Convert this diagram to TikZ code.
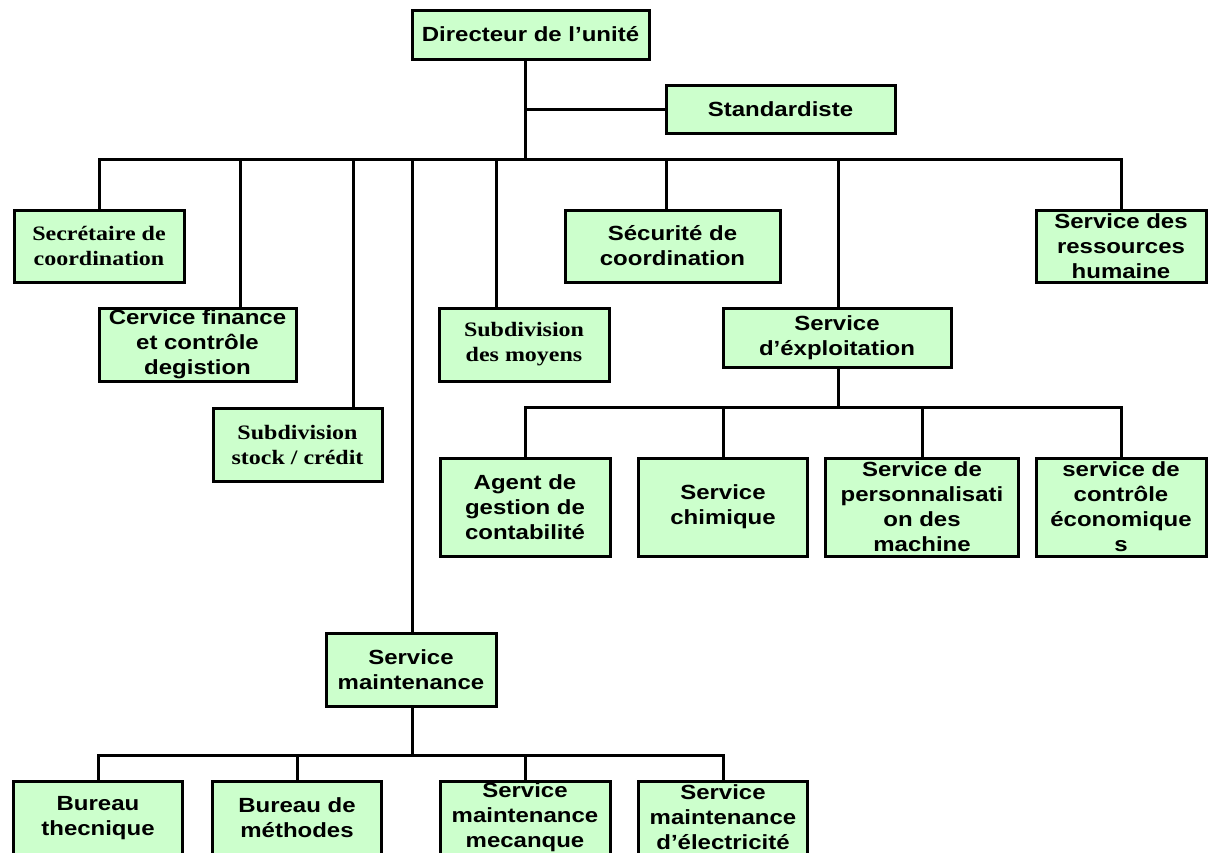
\documentclass[tikz,border=0pt]{standalone}
\usepackage{fontspec}
\setmainfont[FakeStretch=1.17]{Liberation Sans}
\newfontfamily\serifb[FakeStretch=1.17]{Liberation Serif}
\definecolor{boxgreen}{RGB}{204,255,204}
\begin{document}
\begin{tikzpicture}[x=1pt,y=-1pt,
  box/.style={draw=black, fill=boxgreen, line width=3pt, inner sep=0pt, outer sep=0pt,
    align=center, font=\bfseries\fontsize{20.5}{25}\selectfont},
  sbox/.style={box, font=\serifb\bfseries\fontsize{20.5}{25}\selectfont},
  link/.style={line width=3pt, line join=miter, line cap=rect}]
\useasboundingbox (0,0) rectangle (1208,852);
\clip (0,0) rectangle (1208,852);

% boxes
\node[box, minimum width=237pt, minimum height=49pt] (dir) at (530.5,34.5) {Directeur de l’unité};
\node[box, minimum width=229pt, minimum height=48pt] (std) at (780.5,109) {Standardiste};
\node[sbox, minimum width=170pt, minimum height=72pt] (sec) at (99,246) {Secrétaire de\\coordination};
\node[box, minimum width=197pt, minimum height=73pt] (fin) at (197.5,344.5) {Cervice finance\\et contrôle\\degistion};
\node[sbox, minimum width=169pt, minimum height=73pt] (stock) at (297.5,444.5) {Subdivision\\stock / crédit};
\node[sbox, minimum width=170pt, minimum height=73pt] (moy) at (524,344.5) {Subdivision\\des moyens};
\node[box, minimum width=215pt, minimum height=72pt] (secu) at (672.5,246) {Sécurité de\\coordination};
\node[box, minimum width=228pt, minimum height=59pt] (expl) at (837,337.5) {Service\\d’éxploitation};
\node[box, minimum width=170pt, minimum height=72pt] (ress) at (1121,246) {Service des\\ressources\\humaine};
\node[box, minimum width=170pt, minimum height=98pt] (agent) at (525,507) {Agent de\\gestion de\\contabilité};
\node[box, minimum width=169pt, minimum height=98pt] (chim) at (723,507) {Service\\chimique};
\node[box, minimum width=193pt, minimum height=98pt] (pers) at (922,507) {Service de\\personnalisati\\on des\\machine};
\node[box, minimum width=170pt, minimum height=98pt] (eco) at (1121,507) {service de\\contrôle\\économique\\s};
\node[box, minimum width=170pt, minimum height=73pt] (maint) at (411,669.5) {Service\\maintenance};
\node[box, minimum width=169pt, minimum height=73pt] (bt) at (98,818) {Bureau\\thecnique};
\node[box, minimum width=169pt, minimum height=73pt] (bm) at (297,818) {Bureau de\\méthodes};
\node[box, minimum width=170pt, minimum height=73pt] (mec) at (525,817.5) {Service\\maintenance\\mecanque};
\node[box, minimum width=169pt, minimum height=73pt] (elec) at (723,817.5) {Service\\maintenance\\d’électricité};

% bus coordinates
\coordinate (tstd) at (525,109);
\coordinate (bus) at (525,159);
\coordinate (dfin) at (240,159);
\coordinate (dstock) at (353,159);
\coordinate (dmaint) at (412,159);
\coordinate (dmoy) at (496,159);
\coordinate (dsecu) at (666,159);
\coordinate (dexpl) at (838,159);
\coordinate (ebus) at (838,407);
\coordinate (mbus) at (412,755);

% connectors
\draw[link] (dir.south -| bus) -- (bus);
\draw[link] (tstd) -- (std.west);
\draw[link] (sec.north) |- (bus -| ress.north) -- (ress.north);
\draw[link] (dfin) -- (dfin |- fin.north);
\draw[link] (dstock) -- (dstock |- stock.north);
\draw[link] (dmaint) -- (dmaint |- maint.north);
\draw[link] (dmoy) -- (dmoy |- moy.north);
\draw[link] (dsecu) -- (dsecu |- secu.north);
\draw[link] (dexpl) -- (dexpl |- expl.north);
\draw[link] (expl.south -| ebus) -- (ebus);
\draw[link] (agent.north) |- (ebus -| eco.north) -- (eco.north);
\draw[link] (chim.north) -- (chim.north |- ebus);
\draw[link] (pers.north) -- (pers.north |- ebus);
\draw[link] (maint.south -| mbus) -- (mbus);
\draw[link] (bt.north) |- (mbus -| elec.north) -- (elec.north);
\draw[link] (bm.north) -- (bm.north |- mbus);
\draw[link] (mec.north) -- (mec.north |- mbus);
\end{tikzpicture}
\end{document}
